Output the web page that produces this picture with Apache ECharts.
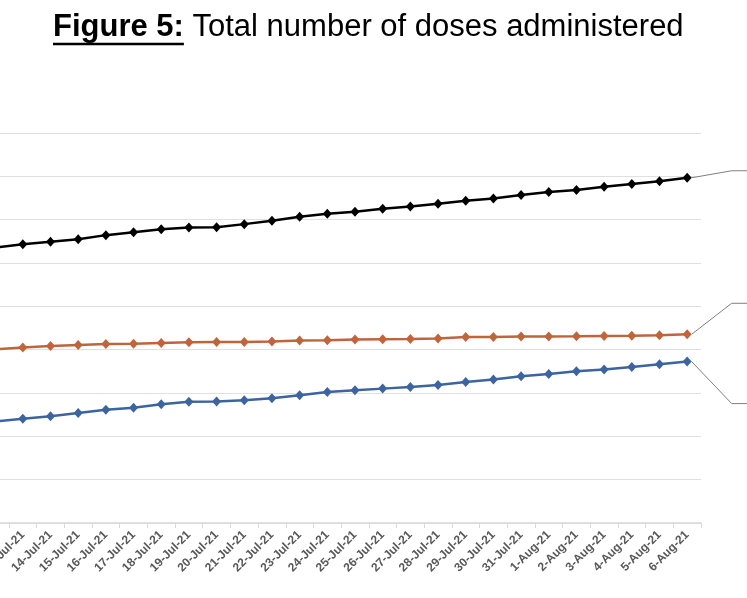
<!DOCTYPE html>
<html>
<head>
<meta charset="utf-8">
<script src="https://cdn.jsdelivr.net/npm/echarts@6/dist/echarts.min.js"></script>
<style>
  html, body { margin: 0; padding: 0; background: #fff; }
  #chart { width: 747px; height: 598px; }
</style>
</head>
<body>
<div id="chart"></div>
<script>
const categories = [
  '12-Jul-21', '13-Jul-21', '14-Jul-21', '15-Jul-21', '16-Jul-21', '17-Jul-21',
  '18-Jul-21', '19-Jul-21', '20-Jul-21', '21-Jul-21', '22-Jul-21', '23-Jul-21',
  '24-Jul-21', '25-Jul-21', '26-Jul-21', '27-Jul-21', '28-Jul-21', '29-Jul-21',
  '30-Jul-21', '31-Jul-21', '1-Aug-21', '2-Aug-21', '3-Aug-21', '4-Aug-21',
  '5-Aug-21', '6-Aug-21'
];

const totalDoses = [
  635400, 643500, 648800, 655000, 664300, 671200, 678100, 682100, 682500,
  689700, 697300, 706600, 713500, 718100, 725000, 730600, 736600, 743500,
  749100, 756700, 763600, 768300, 775900, 782100, 788400, 796700
];

const firstDose = [
  400900, 404800, 408500, 410800, 413100, 413500, 415400, 417100, 417500,
  417800, 418700, 421000, 421700, 423300, 424000, 424700, 425600, 429300,
  429500, 430200, 430600, 430900, 431600, 432000, 433200, 435500
];

const secondDose = [
  234500, 240800, 246100, 253700, 261600, 266200, 273800, 280000, 280300,
  283000, 287700, 294600, 302200, 306100, 310100, 313800, 318400, 325300,
  330900, 338500, 343800, 350000, 354000, 360000, 366200, 372500
];

const titleBold = 'Figure 5:';
const titleRest = ' Total number of doses administered';

const chart = echarts.init(document.getElementById('chart'));

// measure the title so the underline sits under "Figure 5:" only
const ctx = document.createElement('canvas').getContext('2d');
const titleSize = 31;
ctx.font = 'bold ' + titleSize + 'px "Liberation Sans"';
const boldW = ctx.measureText(titleBold).width;
ctx.font = titleSize + 'px "Liberation Sans"';
const restW = ctx.measureText(titleRest).width;
const titleLeft = Math.round((737 - boldW - restW) / 2);
const titleTop = 12;

// put the end label of each series on its last point only
function withEndLabel(values, name) {
  return values.map(function (v, i) {
    if (i !== values.length - 1) return v;
    return {
      value: v,
      label: {
        show: true,
        position: 'right',
        formatter: name + '\n' + echarts.format.addCommas(v),
        color: '#404040',
        fontSize: 12
      }
    };
  });
}

function lineSeries(name, values, color, dy) {
  return {
    name: name,
    type: 'line',
    data: withEndLabel(values, name),
    symbol: 'diamond',
    symbolSize: [9, 10],
    lineStyle: { color: color, width: 2.5 },
    itemStyle: { color: color },
    labelLayout: { dx: 63, dy: dy },
    labelLine: {
      show: true,
      length2: 28,
      lineStyle: { color: '#808080', width: 1 }
    },
    animation: false
  };
}

chart.setOption({
  backgroundColor: '#fff',
  title: {
    text: '{a|' + titleBold + '}{b|' + titleRest + '}',
    left: titleLeft,
    top: titleTop,
    padding: 0,
    textStyle: {
      rich: {
        a: { fontFamily: 'Liberation Sans', fontWeight: 'bold', fontSize: titleSize, color: '#000' },
        b: { fontFamily: 'Liberation Sans', fontWeight: 'normal', fontSize: titleSize, color: '#000' }
      }
    }
  },
  graphic: [{
    type: 'line',
    shape: { x1: titleLeft, y1: titleTop + titleSize + 1, x2: titleLeft + boldW, y2: titleTop + titleSize + 1 },
    style: { stroke: '#000', lineWidth: 2.5 },
    silent: true
  }],
  grid: {
    left: -18.7,
    right: 46,
    top: 133,
    bottom: 75,
    containLabel: false,
    outerBoundsMode: 'none'
  },
  xAxis: {
    type: 'category',
    data: categories,
    boundaryGap: true,
    axisLine: { lineStyle: { color: '#d9d9d9', width: 1.5 } },
    axisTick: { show: true, length: 5, lineStyle: { color: '#d9d9d9' } },
    axisLabel: {
      rotate: 45,
      interval: 0,
      margin: 10,
      color: '#595959',
      fontFamily: 'Liberation Sans',
      fontWeight: 'bold',
      fontSize: 12
    }
  },
  yAxis: {
    type: 'value',
    min: 0,
    max: 900000,
    interval: 100000,
    axisLine: { show: false },
    axisTick: { show: false },
    axisLabel: { show: false },
    splitLine: { lineStyle: { color: '#e0e0e0', width: 1 } }
  },
  series: [
    lineSeries('Total doses', totalDoses, '#000000', -7),
    lineSeries('First dose', firstDose, '#c0643c', -31),
    lineSeries('Second dose', secondDose, '#3b64a0', 42)
  ]
});
</script>
</body>
</html>
